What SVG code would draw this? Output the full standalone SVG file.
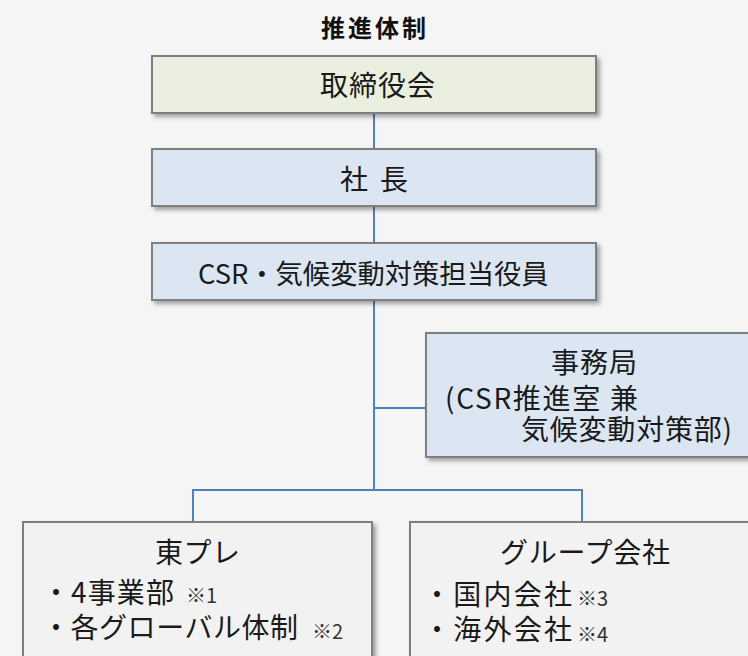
<svg xmlns="http://www.w3.org/2000/svg" width="748" height="656" viewBox="0 0 748 656">
  <defs>
    <filter id="sh" x="-10%" y="-20%" width="130%" height="150%">
      <feDropShadow dx="3" dy="3" stdDeviation="2" flood-color="#000" flood-opacity="0.35"/>
    </filter>
  </defs>
  <style>
    .box { stroke: #7F7F7F; stroke-width: 2; filter: url(#sh); }
    .green { fill: #EBEFDF; }
    .blue { fill: #DCE6F2; }
    .grey { fill: #F2F2F2; }
    .t { font-family: "Noto Sans CJK JP", "Noto Sans", sans-serif; font-size: 28px; fill: #1A1A1A; }
    .n { font-family: "Noto Sans CJK JP", "Noto Sans", sans-serif; font-size: 20px; fill: #333333; }
    .title { font-family: "Noto Sans CJK JP", sans-serif; font-size: 24px; font-weight: bold; fill: #111111; }
    .conn { stroke: #4F81BD; stroke-width: 2; fill: none; }
  </style>
  <rect width="748" height="656" fill="#F5F5F5"/>

  <text class="title" x="321" y="37" textLength="105">推進体制</text>

  <g id="connectors">
    <line class="conn" x1="374" y1="113" x2="374" y2="149"/>
    <line class="conn" x1="374" y1="207" x2="374" y2="243"/>
    <line class="conn" x1="374" y1="301" x2="374" y2="491"/>
    <line class="conn" x1="374" y1="408" x2="426" y2="408"/>
    <polyline class="conn" points="193,522 193,490 582,490 582,522"/>
  </g>

  <g id="board">
    <rect class="box green" x="152" y="56" width="444" height="57"/>
    <text class="t" x="320" y="96" textLength="115">取締役会</text>
  </g>

  <g id="president">
    <rect class="box blue" x="152" y="149" width="444" height="57"/>
    <text class="t" x="340" y="190" textLength="68">社 長</text>
  </g>

  <g id="officer">
    <rect class="box blue" x="152" y="243" width="444" height="57"/>
    <text class="t" x="198" y="284" style="font-size:27.3px">CSR・気候変動対策担当役員</text>
  </g>

  <g id="secretariat">
    <rect class="box blue" x="426" y="333" width="340" height="124"/>
    <text class="t" x="551" y="373" textLength="86">事務局</text>
    <text class="t" x="445" y="409" textLength="193">(CSR推進室 兼</text>
    <text class="t" x="521" y="440" textLength="211">気候変動対策部)</text>
  </g>

  <g id="topre">
    <rect class="box grey" x="23" y="522" width="349" height="160"/>
    <text class="t" x="155" y="563" textLength="85">東プレ</text>
    <text class="t" x="42" y="603" textLength="132">・4事業部</text>
    <text class="n" x="186" y="603">※1</text>
    <text class="t" x="42" y="638" textLength="256">・各グローバル体制</text>
    <text class="n" x="312" y="639">※2</text>
  </g>

  <g id="group">
    <rect class="box grey" x="410" y="522" width="360" height="160"/>
    <text class="t" x="500" y="563" textLength="170">グループ会社</text>
    <text class="t" x="423" y="605" textLength="149">・国内会社</text>
    <text class="n" x="577" y="606">※3</text>
    <text class="t" x="423" y="640" textLength="149">・海外会社</text>
    <text class="n" x="577" y="642">※4</text>
  </g>
</svg>
